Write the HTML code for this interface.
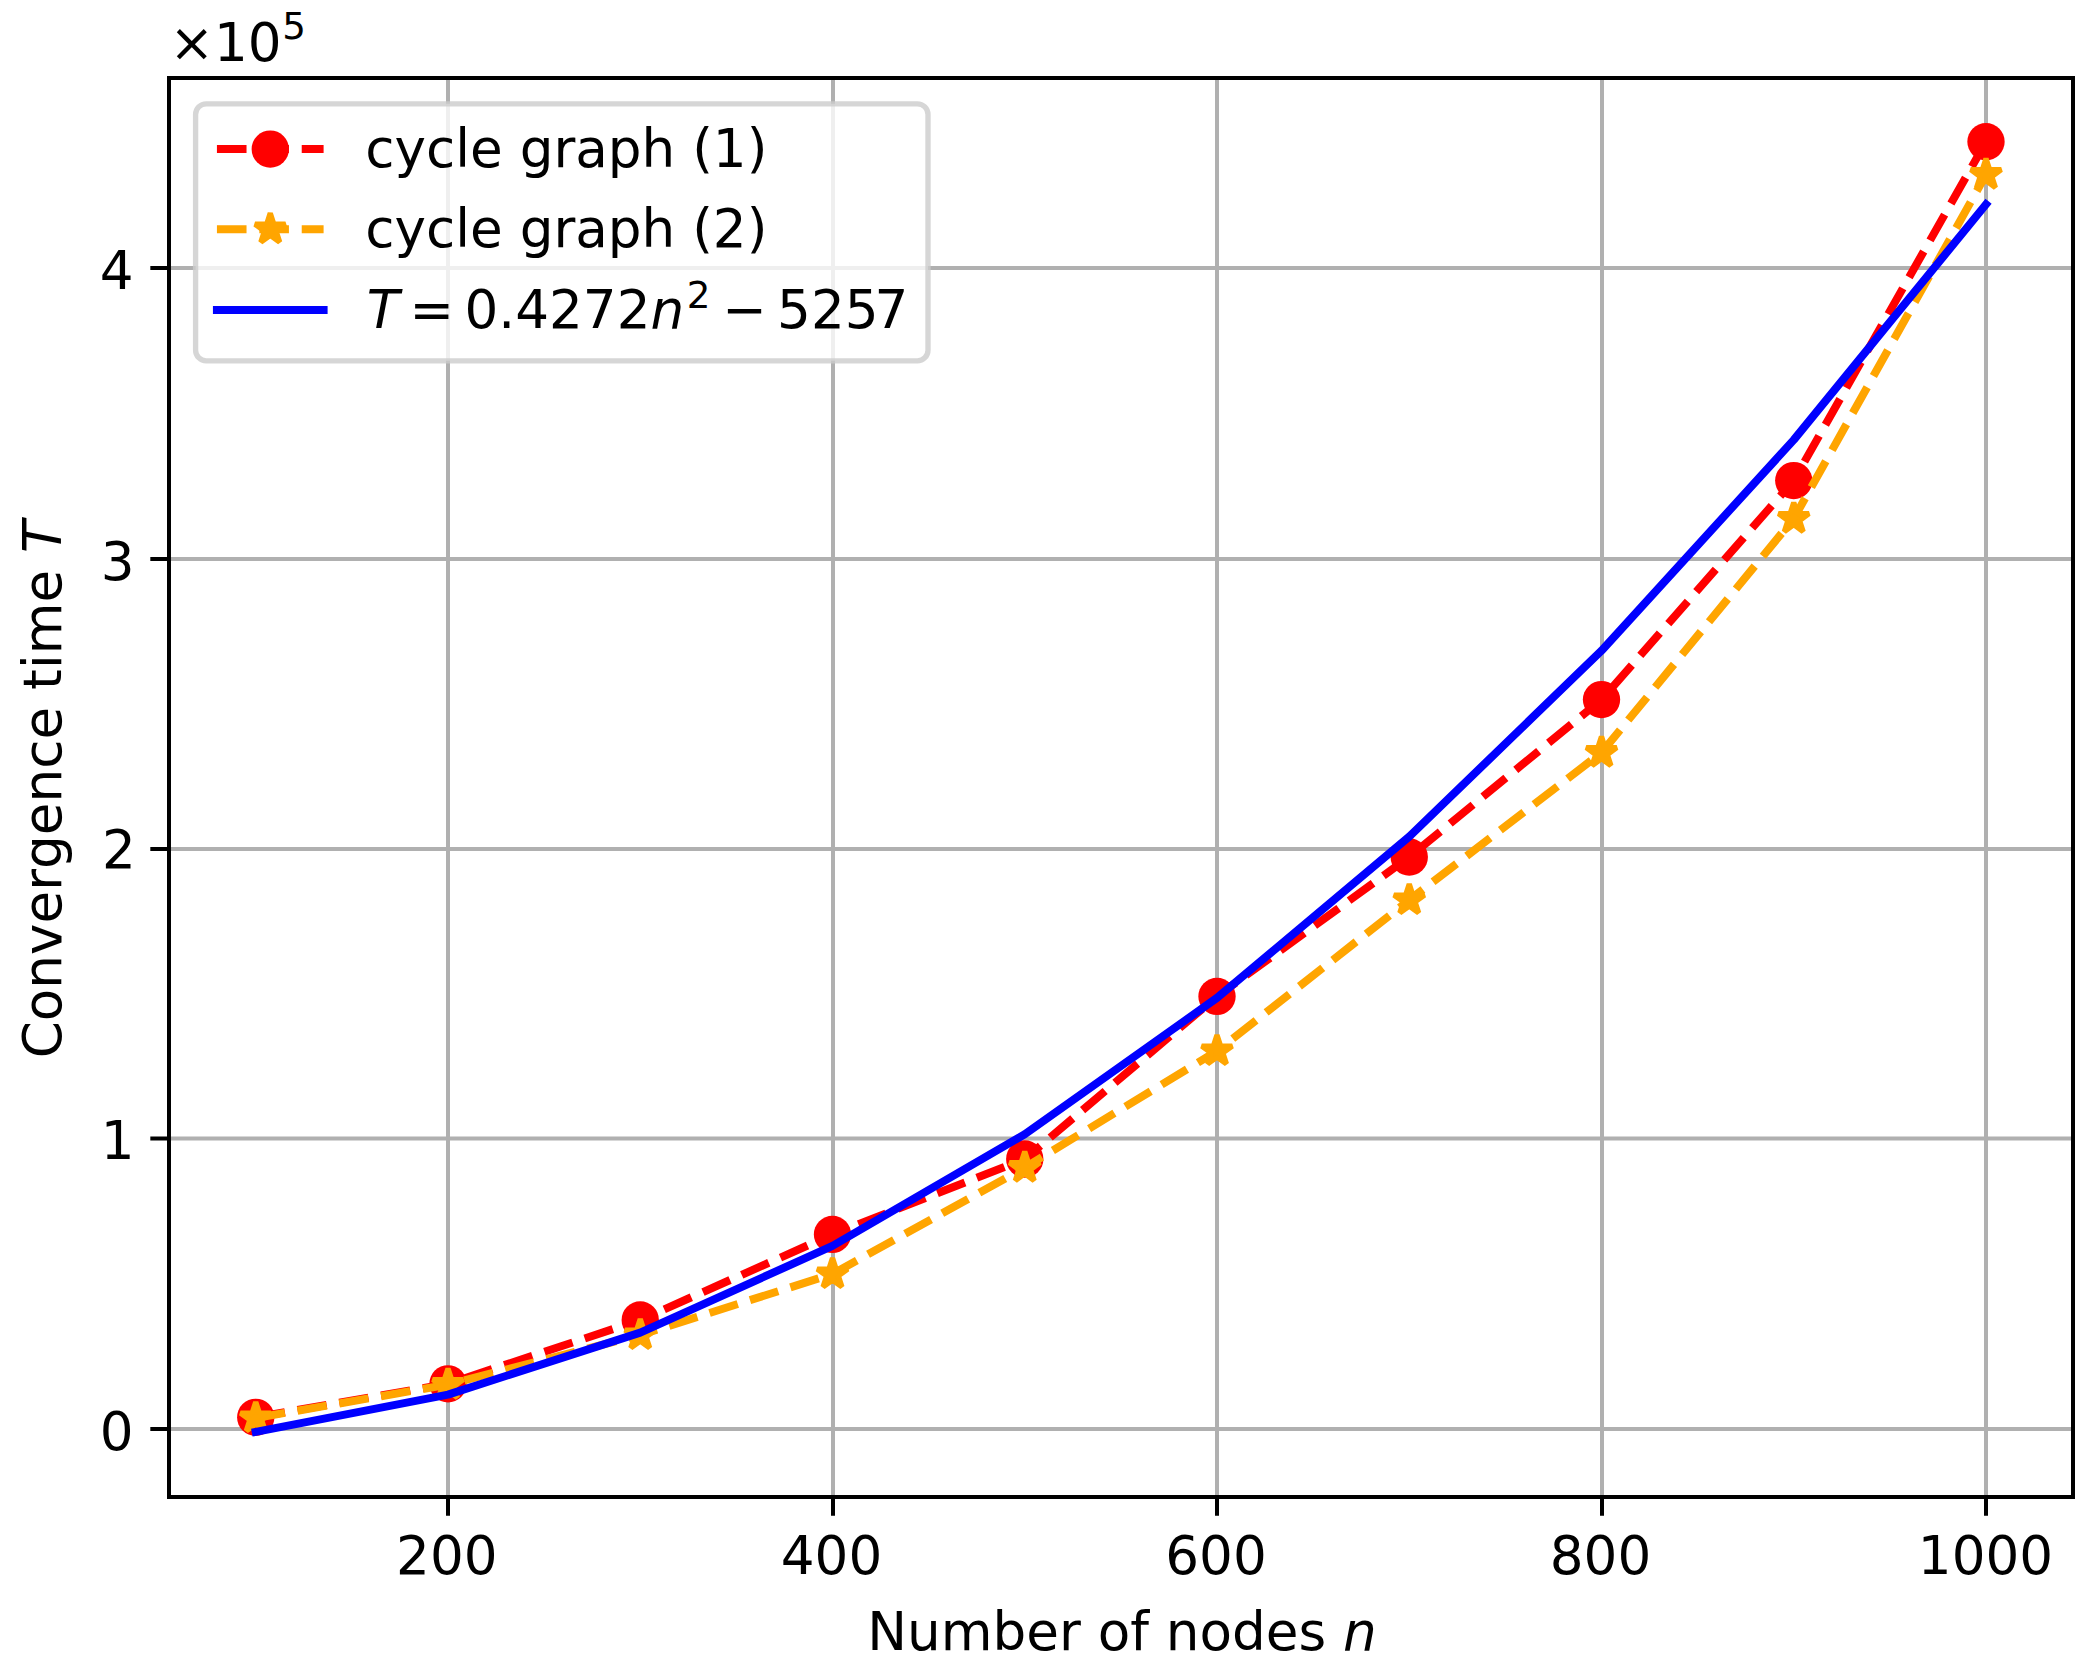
<!DOCTYPE html>
<html lang="en"><head><meta charset="utf-8"><title>Convergence time vs number of nodes</title>
<style>html,body{margin:0;padding:0;background:#fff}svg{display:block}</style></head>
<body>
<svg width="2095" height="1672" viewBox="0 0 2095 1672" font-family="'DejaVu Sans','Liberation Sans',sans-serif" font-size="53.163px" fill="#000">
<rect width="2095" height="1672" fill="#fff"/>
<clipPath id="ax"><rect x="169.0" y="78.0" width="1904.0" height="1419.0"/></clipPath>
<path d="M448 78.0V1497.0M833 78.0V1497.0M1217 78.0V1497.0M1602 78.0V1497.0M1986 78.0V1497.0M169.0 1429H2073.0M169.0 1138.5H2073.0M169.0 849H2073.0M169.0 559H2073.0M169.0 268H2073.0" stroke="#b0b0b0" stroke-width="4.000" fill="none" clip-path="url(#ax)"/>
<path d="M448 1497.0v18.67M833 1497.0v18.67M1217 1497.0v18.67M1602 1497.0v18.67M1986 1497.0v18.67M169.0 1429h-18.67M169.0 1138.5h-18.67M169.0 849h-18.67M169.0 559h-18.67M169.0 268h-18.67" stroke="#000" stroke-width="4.000" fill="none"/>
<g clip-path="url(#ax)">
<polyline points="255.75,1417.30 448.00,1383.80 640.25,1320.00 832.50,1234.40 1024.75,1159.00 1217.00,996.40 1409.25,857.00 1601.50,699.60 1793.75,480.60 1986.00,141.70" fill="none" stroke="#f00" stroke-width="8.000" stroke-dasharray="29.60 12.80" stroke-linejoin="round"/>
<circle cx="255.75" cy="1417.30" r="18.67" fill="#f00"/>
<circle cx="448.00" cy="1383.80" r="18.67" fill="#f00"/>
<circle cx="640.25" cy="1320.00" r="18.67" fill="#f00"/>
<circle cx="832.50" cy="1234.40" r="18.67" fill="#f00"/>
<circle cx="1024.75" cy="1159.00" r="18.67" fill="#f00"/>
<circle cx="1217.00" cy="996.40" r="18.67" fill="#f00"/>
<circle cx="1409.25" cy="857.00" r="18.67" fill="#f00"/>
<circle cx="1601.50" cy="699.60" r="18.67" fill="#f00"/>
<circle cx="1793.75" cy="480.60" r="18.67" fill="#f00"/>
<circle cx="1986.00" cy="141.70" r="18.67" fill="#f00"/>
<polyline points="255.75,1418.00 448.00,1384.60 640.25,1335.00 832.50,1274.00 1024.75,1167.60 1217.00,1051.00 1409.25,900.00 1601.50,752.60 1793.75,518.60 1986.00,174.60" fill="none" stroke="#ffa500" stroke-width="8.000" stroke-dasharray="29.60 12.80" stroke-linejoin="round"/>
<polygon points="255.75,1402.00 259.34,1413.06 270.97,1413.06 261.56,1419.89 265.15,1430.94 255.75,1424.11 246.35,1430.94 249.94,1419.89 240.53,1413.06 252.16,1413.06" fill="#ffa500" stroke="#ffa500" stroke-width="5.333" stroke-linejoin="bevel"/>
<polygon points="448.00,1368.60 451.59,1379.66 463.22,1379.66 453.81,1386.49 457.40,1397.54 448.00,1390.71 438.60,1397.54 442.19,1386.49 432.78,1379.66 444.41,1379.66" fill="#ffa500" stroke="#ffa500" stroke-width="5.333" stroke-linejoin="bevel"/>
<polygon points="640.25,1319.00 643.84,1330.06 655.47,1330.06 646.06,1336.89 649.65,1347.94 640.25,1341.11 630.85,1347.94 634.44,1336.89 625.03,1330.06 636.66,1330.06" fill="#ffa500" stroke="#ffa500" stroke-width="5.333" stroke-linejoin="bevel"/>
<polygon points="832.50,1258.00 836.09,1269.06 847.72,1269.06 838.31,1275.89 841.90,1286.94 832.50,1280.11 823.10,1286.94 826.69,1275.89 817.28,1269.06 828.91,1269.06" fill="#ffa500" stroke="#ffa500" stroke-width="5.333" stroke-linejoin="bevel"/>
<polygon points="1024.75,1151.60 1028.34,1162.66 1039.97,1162.66 1030.56,1169.49 1034.15,1180.54 1024.75,1173.71 1015.35,1180.54 1018.94,1169.49 1009.53,1162.66 1021.16,1162.66" fill="#ffa500" stroke="#ffa500" stroke-width="5.333" stroke-linejoin="bevel"/>
<polygon points="1217.00,1035.00 1220.59,1046.06 1232.22,1046.06 1222.81,1052.89 1226.40,1063.94 1217.00,1057.11 1207.60,1063.94 1211.19,1052.89 1201.78,1046.06 1213.41,1046.06" fill="#ffa500" stroke="#ffa500" stroke-width="5.333" stroke-linejoin="bevel"/>
<polygon points="1409.25,884.00 1412.84,895.06 1424.47,895.06 1415.06,901.89 1418.65,912.94 1409.25,906.11 1399.85,912.94 1403.44,901.89 1394.03,895.06 1405.66,895.06" fill="#ffa500" stroke="#ffa500" stroke-width="5.333" stroke-linejoin="bevel"/>
<polygon points="1601.50,736.60 1605.09,747.66 1616.72,747.66 1607.31,754.49 1610.90,765.54 1601.50,758.71 1592.10,765.54 1595.69,754.49 1586.28,747.66 1597.91,747.66" fill="#ffa500" stroke="#ffa500" stroke-width="5.333" stroke-linejoin="bevel"/>
<polygon points="1793.75,502.60 1797.34,513.66 1808.97,513.66 1799.56,520.49 1803.15,531.54 1793.75,524.71 1784.35,531.54 1787.94,520.49 1778.53,513.66 1790.16,513.66" fill="#ffa500" stroke="#ffa500" stroke-width="5.333" stroke-linejoin="bevel"/>
<polygon points="1986.00,158.60 1989.59,169.66 2001.22,169.66 1991.81,176.49 1995.40,187.54 1986.00,180.71 1976.60,187.54 1980.19,176.49 1970.78,169.66 1982.41,169.66" fill="#ffa500" stroke="#ffa500" stroke-width="5.333" stroke-linejoin="bevel"/>
<polyline points="255.75,1431.86 448.00,1394.66 640.25,1332.66 832.50,1245.87 1024.75,1134.27 1217.00,997.88 1409.25,836.68 1601.50,650.69 1793.75,439.90 1986.00,204.31" fill="none" stroke="#00f" stroke-width="8.000" stroke-linejoin="round" stroke-linecap="square"/>
</g>
<rect x="169.0" y="78.0" width="1904.0" height="1419.0" fill="none" stroke="#000" stroke-width="4.000"/>
<text x="446.80" y="1573.5" text-anchor="middle">200</text>
<text x="831.50" y="1573.5" text-anchor="middle">400</text>
<text x="1216.00" y="1573.5" text-anchor="middle">600</text>
<text x="1600.50" y="1573.5" text-anchor="middle">800</text>
<text x="1985.50" y="1573.5" text-anchor="middle">1000</text>
<text x="133.47" y="1450" text-anchor="end">0</text>
<text x="134.47" y="1159" text-anchor="end">1</text>
<text x="135.87" y="868.2" text-anchor="end">2</text>
<text x="134.67" y="579.6" text-anchor="end">3</text>
<text x="133.47" y="289.3" text-anchor="end">4</text>
<text><tspan x="867.20 906.97 940.66 992.45 1026.19 1058.90 1080.76 1097.66 1130.18 1148.90 1165.80 1199.49 1232.02 1265.76 1298.47 1326.17" y="1650.40">Number of nodes </tspan><tspan x="1343.07" y="1650.40" font-style="oblique">n</tspan></text>
<text transform="translate(61.3 1058.3) rotate(-90)"><tspan x="0.00 37.12 69.65 103.34 134.80 167.51 189.37 223.11 255.82 289.51 318.74 351.45 368.35 389.19 403.96 455.75 488.46" y="0.00">Convergence time </tspan><tspan x="505.36" y="0.00" font-style="oblique">T</tspan></text>
<text><tspan x="169.50 214.04 247.87" y="60.80">×10</tspan><tspan x="282.20" y="39.38" font-size="37.214px">5</tspan></text>
<rect x="195.6" y="103.8" width="732.4" height="257.0" rx="10.67" ry="10.67" fill="#fff" fill-opacity="0.8" stroke="#ccc" stroke-opacity="0.8" stroke-width="5.333"/>
<path d="M216.93 149.1H323.60" stroke="#f00" stroke-width="8.000" stroke-dasharray="29.60 12.80" fill="none"/>
<circle cx="270.27" cy="149.1" r="18.67" fill="#f00"/>
<path d="M216.93 229.2H323.60" stroke="#ffa500" stroke-width="8.000" stroke-dasharray="29.60 12.80" fill="none"/>
<polygon points="270.27,213.20 273.86,224.26 285.48,224.26 276.08,231.09 279.67,242.14 270.27,235.31 260.86,242.14 264.45,231.09 255.05,224.26 266.67,224.26" fill="#ffa500" stroke="#ffa500" stroke-width="5.333" stroke-linejoin="bevel"/>
<path d="M216.93 310.0H323.60" stroke="#00f" stroke-width="8.000" stroke-linecap="square" fill="none"/>
<text x="365.37" y="167.0">cycle graph (1)</text>
<text x="365.37" y="247.2">cycle graph (2)</text>
<text><tspan x="366.77" y="328.00" font-style="oblique">T</tspan><tspan x="409.60 464.50 498.32 515.22 549.05 582.87 616.69" y="328.00">=0.4272</tspan><tspan x="650.52" y="328.00" font-style="oblique">n</tspan><tspan x="686.68" y="307.58" font-size="37.214px">2</tspan><tspan x="722.17 777.07 810.89 844.72 874.55" y="328.00">−5257</tspan></text>
</svg>
</body></html>
